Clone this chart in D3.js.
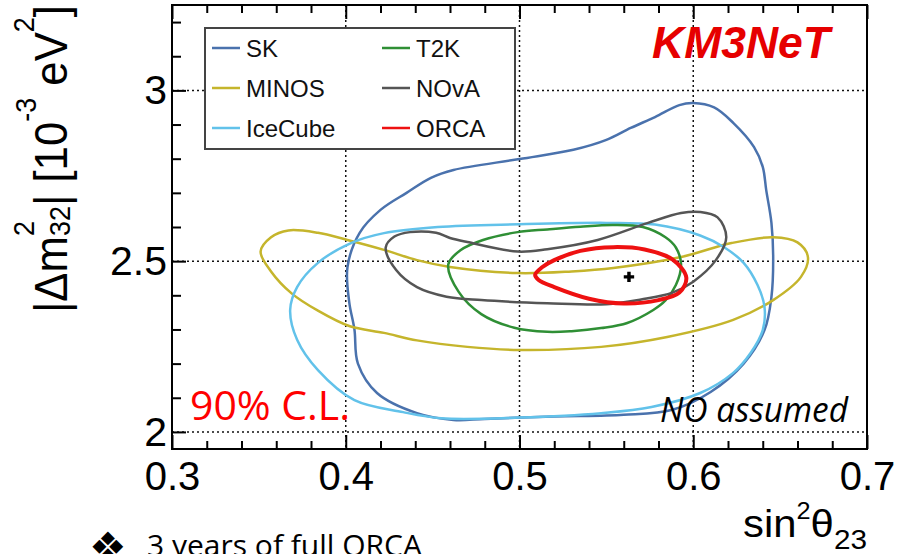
<!DOCTYPE html>
<html>
<head>
<meta charset="utf-8">
<script src="https://cdn.jsdelivr.net/npm/d3@7"></script>
<style>
  body { margin: 0; background: #fff; }
  svg { display: block; }
</style>
</head>
<body>
<div id="chart"></div>
<script>
// 90% C.L. contours: [sin^2(theta23), |dm^2_32| (1e-3 eV^2)]
const sk = [
  [0.600, 2.963], [0.612, 2.950], [0.623, 2.905], [0.635, 2.834], [0.640, 2.776],
  [0.642, 2.708], [0.645, 2.612], [0.646, 2.512], [0.645, 2.395], [0.641, 2.298],
  [0.629, 2.200], [0.610, 2.117], [0.588, 2.065], [0.560, 2.050], [0.520, 2.045],
  [0.480, 2.038], [0.462, 2.035], [0.441, 2.055], [0.418, 2.114], [0.407, 2.200],
  [0.405, 2.300], [0.402, 2.380], [0.401, 2.483], [0.408, 2.583], [0.420, 2.650],
  [0.435, 2.700], [0.449, 2.744], [0.462, 2.767], [0.500, 2.799], [0.531, 2.826],
  [0.550, 2.855], [0.564, 2.890], [0.578, 2.922], [0.592, 2.957]
];
const minos = [
  [0.351, 2.528], [0.357, 2.570], [0.367, 2.590], [0.384, 2.583], [0.401, 2.562],
  [0.422, 2.533], [0.441, 2.503], [0.460, 2.483], [0.499, 2.465], [0.530, 2.470],
  [0.554, 2.480], [0.593, 2.512], [0.622, 2.553], [0.646, 2.570], [0.660, 2.555],
  [0.666, 2.512], [0.662, 2.454], [0.646, 2.386], [0.623, 2.328], [0.585, 2.278],
  [0.547, 2.249], [0.500, 2.240], [0.470, 2.249], [0.441, 2.268], [0.422, 2.290],
  [0.402, 2.310], [0.384, 2.355], [0.369, 2.405], [0.357, 2.470]
];
const icecube = [
  [0.368, 2.357], [0.372, 2.424], [0.384, 2.495], [0.403, 2.553], [0.422, 2.582],
  [0.453, 2.600], [0.500, 2.608], [0.550, 2.612], [0.578, 2.607], [0.604, 2.575],
  [0.618, 2.540], [0.629, 2.495], [0.637, 2.430], [0.641, 2.366], [0.640, 2.298],
  [0.633, 2.231], [0.623, 2.173], [0.604, 2.114], [0.576, 2.073], [0.547, 2.055],
  [0.500, 2.042], [0.455, 2.040], [0.433, 2.058], [0.405, 2.093], [0.384, 2.181],
  [0.372, 2.270]
];
const t2k = [
  [0.459, 2.490], [0.466, 2.532], [0.479, 2.562], [0.499, 2.585], [0.516, 2.593],
  [0.535, 2.601], [0.554, 2.606], [0.571, 2.600], [0.584, 2.570], [0.590, 2.540],
  [0.593, 2.490], [0.590, 2.430], [0.584, 2.385], [0.577, 2.357], [0.562, 2.319],
  [0.547, 2.304], [0.530, 2.295], [0.516, 2.293], [0.497, 2.305], [0.478, 2.345],
  [0.465, 2.410]
];
const nova = [
  [0.423, 2.540], [0.428, 2.572], [0.437, 2.585], [0.452, 2.583], [0.460, 2.568],
  [0.470, 2.556], [0.499, 2.528], [0.516, 2.535], [0.545, 2.562], [0.574, 2.612],
  [0.593, 2.641], [0.604, 2.644], [0.614, 2.628], [0.619, 2.570], [0.613, 2.503],
  [0.600, 2.440], [0.588, 2.408], [0.570, 2.388], [0.550, 2.374], [0.516, 2.377],
  [0.478, 2.386], [0.458, 2.396], [0.441, 2.424], [0.429, 2.474]
];
const orca = [
  [0.509, 2.460], [0.513, 2.482], [0.520, 2.503], [0.535, 2.530], [0.554, 2.541],
  [0.572, 2.534], [0.588, 2.505], [0.596, 2.452], [0.592, 2.408], [0.580, 2.386],
  [0.560, 2.376], [0.540, 2.390], [0.520, 2.424], [0.511, 2.445]
];
const bestFit = [0.563, 2.454];

const seriesNames = ['SK', 'MINOS', 'IceCube', 'T2K', 'NOvA', 'ORCA'];
const seriesData = { SK: sk, MINOS: minos, IceCube: icecube, T2K: t2k, NOvA: nova, ORCA: orca };
const legendOrder = ['SK', 'T2K', 'MINOS', 'NOvA', 'IceCube', 'ORCA'];

const xTicks = [0.3, 0.4, 0.5, 0.6, 0.7];
const xTickLabels = ['0.3', '0.4', '0.5', '0.6', '0.7'];
const xMinorTicks = [0.32, 0.34, 0.36, 0.38, 0.42, 0.44, 0.46, 0.48, 0.52, 0.54, 0.56, 0.58, 0.62, 0.64, 0.66, 0.68];
const yTicks = [2, 2.5, 3];
const yTickLabels = ['2', '2.5', '3'];
const yMinorTicks = [2.1, 2.2, 2.3, 2.4, 2.6, 2.7, 2.8, 2.9, 3.1, 3.2];
const gridX = [0.4, 0.5, 0.6];
const gridY = [2, 2.5, 3];

const colors = { SK: '#4a72ad', MINOS: '#c5b52c', IceCube: '#62c2ea', T2K: '#2f8f35', NOvA: '#555555', ORCA: '#ee1111' };
const widths = { SK: 2.5, MINOS: 2.5, IceCube: 2.5, T2K: 2.5, NOvA: 2.5, ORCA: 4 };

const W = 906, H = 554;
const frame = { left: 172, right: 867, top: 5, bottom: 449 };
const helv = '"Liberation Sans", Arial, Helvetica, sans-serif';
const calibri = '"Open Sans", "Noto Sans", sans-serif';

const svg = d3.select('#chart').append('svg')
  .attr('width', W)
  .attr('height', H)
  .style('background', '#fff');

const x = d3.scaleLinear().domain([0.3, 0.7]).range([frame.left, frame.right]);
const y = d3.scaleLinear().domain([1.95, 3.25]).range([frame.bottom, frame.top]);

// grid
const grid = svg.append('g').attr('stroke', '#111').attr('stroke-width', 1.5).attr('stroke-dasharray', '2,3');
gridX.forEach(v => grid.append('line')
  .attr('x1', x(v)).attr('x2', x(v)).attr('y1', frame.top).attr('y2', frame.bottom));
gridY.forEach(v => grid.append('line')
  .attr('x1', frame.left).attr('x2', frame.right).attr('y1', y(v)).attr('y2', y(v)));

// contours
const line = d3.line()
  .x(d => x(d[0]))
  .y(d => y(d[1]))
  .curve(d3.curveCatmullRomClosed.alpha(0.5));

seriesNames.forEach(name => {
  svg.append('path')
    .datum(seriesData[name])
    .attr('d', line)
    .attr('fill', 'none')
    .attr('stroke', colors[name])
    .attr('stroke-width', widths[name])
    .attr('stroke-linejoin', 'round');
});

svg.append('path')
  .attr('d', d3.symbol(d3.symbolCross, 60)())
  .attr('transform', `translate(${x(bestFit[0])},${y(bestFit[1])})`)
  .attr('fill', '#000');

// axes (ticks point inward)
function styleAxis(g) {
  g.select('.domain').remove();
  g.selectAll('.tick line').attr('stroke', '#000').attr('stroke-width', 2);
  g.selectAll('.tick text').attr('fill', '#000').style('font-family', helv);
}

svg.append('g')
  .attr('transform', `translate(0,${frame.bottom})`)
  .call(d3.axisBottom(x).tickValues(xTicks).tickSize(-14).tickPadding(13)
    .tickFormat((d, i) => xTickLabels[i]))
  .call(styleAxis)
  .call(g => g.selectAll('.tick text').style('font-size', '40px'));

svg.append('g')
  .attr('transform', `translate(0,${frame.bottom})`)
  .call(d3.axisBottom(x).tickValues(xMinorTicks).tickSize(-8).tickFormat(''))
  .call(styleAxis);

svg.append('g')
  .attr('transform', `translate(0,${frame.top})`)
  .call(d3.axisTop(x).tickValues(xTicks).tickSize(-14).tickFormat(''))
  .call(styleAxis);

svg.append('g')
  .attr('transform', `translate(0,${frame.top})`)
  .call(d3.axisTop(x).tickValues(xMinorTicks).tickSize(-8).tickFormat(''))
  .call(styleAxis);

svg.append('g')
  .attr('transform', `translate(${frame.left},0)`)
  .call(d3.axisLeft(y).tickValues(yTicks).tickSize(-14).tickPadding(5)
    .tickFormat((d, i) => yTickLabels[i]))
  .call(styleAxis)
  .call(g => g.selectAll('.tick text').style('font-size', '41px'));

svg.append('g')
  .attr('transform', `translate(${frame.left},0)`)
  .call(d3.axisLeft(y).tickValues(yMinorTicks).tickSize(-9).tickFormat(''))
  .call(styleAxis);

svg.append('rect')
  .attr('x', frame.left).attr('y', frame.top)
  .attr('width', frame.right - frame.left).attr('height', frame.bottom - frame.top)
  .attr('fill', 'none').attr('stroke', '#000').attr('stroke-width', 2);

// text with sup/subscripts laid out piece by piece
function richText(g, parts) {
  let cx = 0, pending = null;
  parts.forEach(p => {
    const t = g.append('text')
      .attr('x', cx).attr('y', p.dy || 0)
      .attr('fill', '#000')
      .style('font-family', helv)
      .style('font-size', p.size + 'px')
      .style('white-space', 'pre')
      .text(p.t);
    const w = t.node().getComputedTextLength();
    if (p.stack) {
      pending = w;
    } else {
      cx += pending !== null ? Math.max(w, pending) : w;
      pending = null;
    }
  });
  return cx;
}

const xTitle = svg.append('g');
const xTitleInner = xTitle.append('g');
const xw = richText(xTitleInner, [
  { t: 'sin', size: 38 },
  { t: '2', size: 23, dy: -18 },
  { t: 'θ', size: 38 },
  { t: '23', size: 27, dy: 12 }
]);
xTitleInner.attr('transform', `scale(${124 / xw},1)`);
xTitle.attr('transform', `translate(${867 - 124},537)`);

const yTitle = svg.append('g').attr('transform', 'translate(67,313) rotate(-90)');
const yTitleInner = yTitle.append('g');
const yw = richText(yTitleInner, [
  { t: '|Δm', size: 47 },
  { t: '2', size: 29, dy: -33, stack: true },
  { t: '32', size: 29, dy: 3 },
  { t: '| [10', size: 47 },
  { t: '-3', size: 29, dy: -31 },
  { t: ' eV', size: 47 },
  { t: '2', size: 29, dy: -33 },
  { t: ']', size: 47 }
]);
yTitleInner.attr('transform', `scale(${308 / yw},1)`);

// legend
const legend = svg.append('g');
legend.append('rect')
  .attr('x', 205).attr('y', 28).attr('width', 310).attr('height', 121)
  .attr('fill', '#fff').attr('stroke', '#444').attr('stroke-width', 2);

legendOrder.forEach((name, i) => {
  const col = i % 2, row = Math.floor(i / 2);
  const lx = col === 0 ? 212 : 382;
  const ly = 48 + row * 40;
  legend.append('line')
    .attr('x1', lx).attr('x2', lx + 28).attr('y1', ly).attr('y2', ly)
    .attr('stroke', colors[name]).attr('stroke-width', 2.5);
  legend.append('text')
    .attr('x', lx + 34).attr('y', ly + 9)
    .attr('fill', '#111')
    .style('font-family', helv)
    .style('font-size', '24px')
    .text(name);
});

// annotations
svg.append('text')
  .attr('x', 652).attr('y', 58)
  .attr('fill', '#e60000')
  .style('font-family', helv)
  .style('font-weight', 'bold')
  .style('font-style', 'italic')
  .style('font-size', '44px')
  .attr('textLength', 178).attr('lengthAdjust', 'spacingAndGlyphs')
  .text('KM3NeT');

svg.append('text')
  .attr('x', 190).attr('y', 420)
  .attr('fill', '#ff0000')
  .style('font-family', calibri)
  .style('font-size', '40px')
  .attr('textLength', 160).attr('lengthAdjust', 'spacingAndGlyphs')
  .text('90% C.L.');

svg.append('text')
  .attr('x', 660).attr('y', 422)
  .attr('fill', '#000')
  .style('font-family', calibri)
  .style('font-style', 'italic')
  .style('font-size', '34px')
  .attr('textLength', 188).attr('lengthAdjust', 'spacingAndGlyphs')
  .text('NO assumed');

// slide bullet line, cut by the bottom edge as in the source
svg.append('text')
  .attr('x', 89).attr('y', 562)
  .attr('fill', '#000')
  .style('font-family', '"DejaVu Sans", sans-serif')
  .style('font-size', '42px')
  .text('❖');

svg.append('text')
  .attr('x', 147).attr('y', 556)
  .attr('fill', '#000')
  .style('font-family', calibri)
  .style('font-size', '30px')
  .text('3 years of full ORCA');
</script>
</body>
</html>
